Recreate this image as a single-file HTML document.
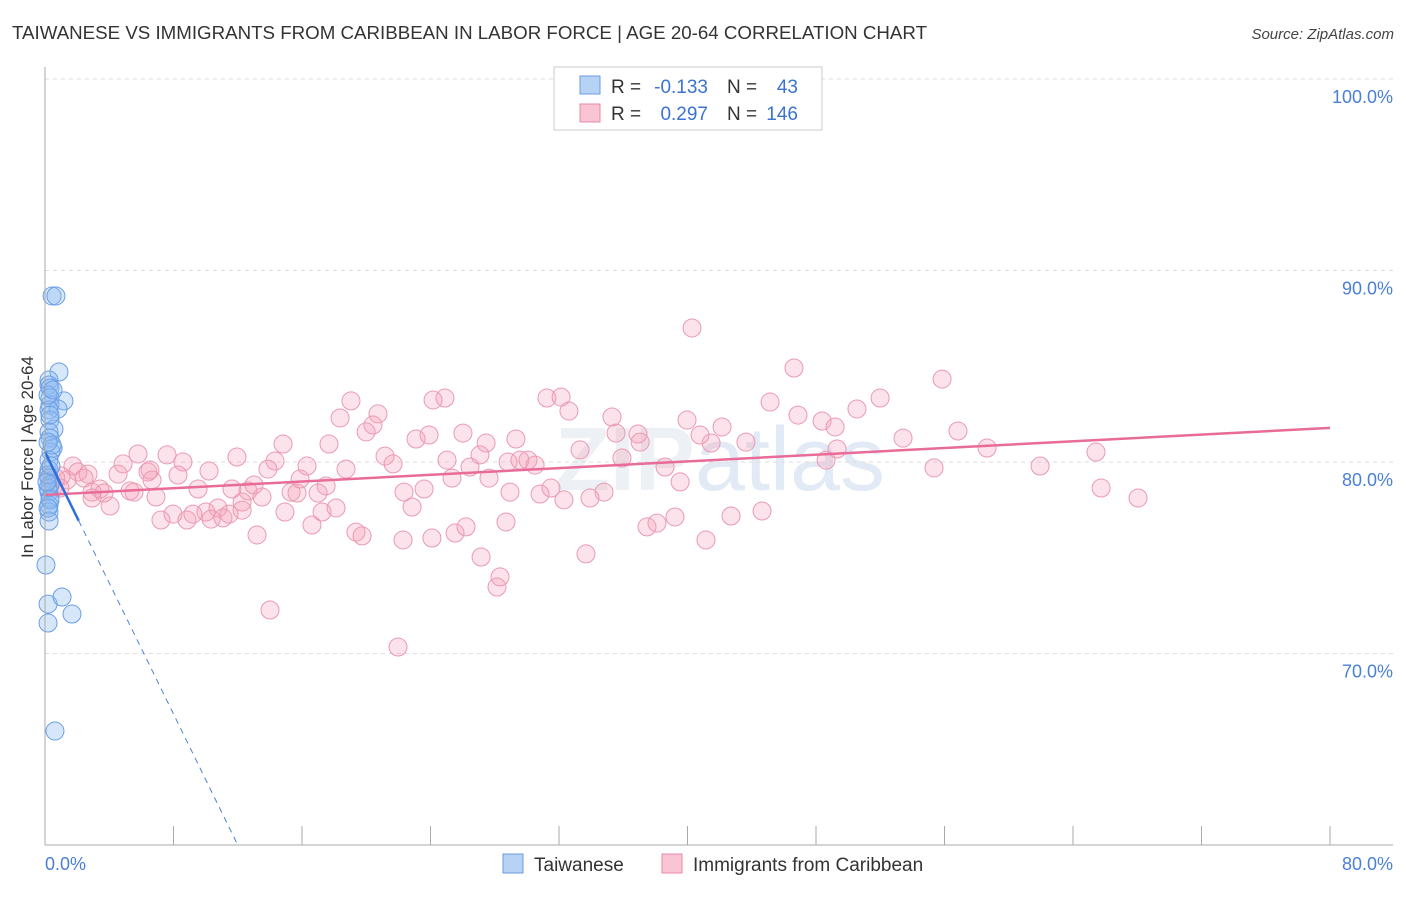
<!DOCTYPE html>
<html><head><meta charset="utf-8"><style>
body{margin:0;background:#fff;font-family:"Liberation Sans",sans-serif}
svg text{font-family:"Liberation Sans",sans-serif}
</style></head><body>
<svg id="chart" width="1406" height="892" xmlns="http://www.w3.org/2000/svg">
<text x="12" y="39" font-size="18" fill="#333" textLength="915" lengthAdjust="spacingAndGlyphs">TAIWANESE VS IMMIGRANTS FROM CARIBBEAN IN LABOR FORCE | AGE 20-64 CORRELATION CHART</text>
<text x="1394" y="39" font-size="15" fill="#444" font-style="italic" text-anchor="end">Source: ZipAtlas.com</text>
<text transform="translate(33,457) rotate(-90)" font-size="17" fill="#333" text-anchor="middle">In Labor Force | Age 20-64</text>
<text x="720" y="490" font-size="90" fill="#edf0f4" text-anchor="middle" font-weight="bold">ZIP<tspan fill="#e2eaf5" font-weight="normal">atlas</tspan></text>
<g id="grid"></g><g id="pts"></g><g id="trend"></g>
<line x1="45" y1="67" x2="45" y2="845" stroke="#aaa"/>
<line x1="45" y1="845" x2="1393" y2="845" stroke="#aaa"/>
<text x="45" y="870" font-size="18" fill="#4a7fd6">0.0%</text>
<text x="1393" y="870" font-size="18" fill="#4a7fd6" text-anchor="end">80.0%</text>
<g>
<rect x="554" y="67" width="268" height="63" fill="#fff" stroke="#ccc"/>
<rect x="580" y="76" width="20" height="18" fill="#b6d2f5" stroke="#6b9be0"/>
<rect x="580" y="104" width="20" height="18" fill="#f9c5d5" stroke="#e889a7"/>
<text x="611" y="93" font-size="19" fill="#333">R =</text>
<text x="708" y="93" font-size="19" fill="#3a73d1" text-anchor="end">-0.133</text>
<text x="727" y="93" font-size="19" fill="#333">N =</text>
<text x="798" y="93" font-size="19" fill="#3a73d1" text-anchor="end">43</text>
<text x="611" y="120" font-size="19" fill="#333">R =</text>
<text x="708" y="120" font-size="19" fill="#3a73d1" text-anchor="end">0.297</text>
<text x="727" y="120" font-size="19" fill="#333">N =</text>
<text x="798" y="120" font-size="19" fill="#3a73d1" text-anchor="end">146</text>
</g>
<g>
<rect x="503" y="854" width="20" height="19" fill="#b6d2f5" stroke="#6b9be0"/>
<text x="534" y="871" font-size="19" fill="#333">Taiwanese</text>
<rect x="662" y="854" width="20" height="19" fill="#f9c5d5" stroke="#e889a7"/>
<text x="693" y="871" font-size="19" fill="#333">Immigrants from Caribbean</text>
</g>
</svg>
<script>
const yTicks=[70,80,90,100];
const yTickLabels=["70.0%","80.0%","90.0%","100.0%"];
const xTicks=[0,8,16,24,32,40,48,56,64,72,80];
const blueX=[0.44,0.68,0.87,0.25,0.25,0.31,1.18,0.31,0.31,0.81,0.25,0.31,0.56,0.25,0.31,0.5,0.37,0.25,0.25,0.25,0.31,0.25,0.31,0.25,0.25,0.25,0.06,0.19,1.06,1.68,0.19,0.62,0.19,0.19,0.44,0.19,0.31,0.19,0.5,0.31,0.19,0.12,0.37];
const blueY=[88.67,88.67,84.70,84.28,84.02,83.86,83.19,83.34,82.98,82.77,82.72,82.19,81.72,81.57,81.25,80.73,80.52,80.10,79.58,79.16,78.80,78.43,78.12,77.75,77.39,76.92,74.62,72.58,72.95,72.06,71.59,65.95,78.64,79.32,80.89,81.04,82.45,83.50,83.76,78.02,77.60,78.96,79.79];
const pinkX=[40.28,46.63,55.85,19.05,24.90,24.16,31.25,32.13,32.62,45.14,51.99,50.55,35.30,39.97,42.15,48.38,46.88,49.19,20.73,20.42,19.99,18.37,56.84,53.42,65.43,58.65,43.64,17.68,14.82,23.10,23.91,26.02,27.46,29.32,33.31,35.55,36.92,37.05,40.78,41.47,49.31,48.63,21.17,21.67,25.03,27.08,26.46,29.57,30.07,30.51,35.92,38.60,28.83,11.95,14.32,16.31,13.88,18.74,10.21,8.59,7.60,5.79,4.86,4.55,6.41,6.54,6.66,8.28,1.74,2.05,1.00,0.68,1.37,2.68,2.43,0.19,0.50,0.93,2.93,3.42,3.67,5.29,5.54,6.91,9.53,11.64,12.64,13.01,13.51,15.32,15.88,15.69,17.00,17.50,22.35,23.60,25.34,27.64,28.95,30.82,31.50,32.31,33.93,34.80,39.54,55.35,61.95,65.75,68.05,4.05,2.93,12.27,7.22,7.97,8.84,9.21,10.02,10.34,10.77,11.08,11.46,12.27,14.94,16.62,17.25,18.12,19.36,19.74,22.85,24.09,22.29,25.53,26.21,28.70,37.48,38.10,39.22,42.71,44.64,41.15,33.68,27.15,28.33,28.14,14.01,21.98,13.20];
const pinkY=[87.00,84.91,84.33,83.19,83.34,83.24,83.34,83.39,82.66,83.13,83.34,82.77,82.35,82.19,81.83,82.14,82.45,81.83,82.51,81.93,81.57,82.30,81.62,81.25,80.52,80.73,81.04,80.94,80.94,81.20,81.41,81.51,80.99,81.20,80.63,81.51,81.46,81.04,81.41,80.99,80.68,80.10,80.31,79.90,80.10,80.37,79.74,80.10,80.10,79.84,80.21,79.74,80.00,80.26,80.05,79.79,79.63,79.63,79.53,80.00,80.37,80.42,79.90,79.37,79.48,79.58,79.06,79.32,79.79,79.48,79.27,79.16,79.06,79.37,79.16,79.32,78.69,78.64,78.43,78.59,78.38,78.49,78.43,78.17,78.59,78.59,78.49,78.80,78.17,78.43,79.11,78.38,78.38,78.75,78.43,78.59,79.16,79.16,78.43,78.33,78.64,78.02,78.12,78.43,78.96,79.69,79.79,78.64,78.12,77.70,78.12,77.91,76.97,77.28,76.97,77.28,77.39,77.02,77.60,77.08,77.28,77.49,77.39,76.71,77.39,77.60,76.34,76.14,77.65,76.03,75.93,76.29,76.61,76.87,76.61,76.81,77.13,77.18,77.44,75.93,75.20,75.04,74.00,73.47,72.27,70.34,76.19];
const blueTrend=[80.52,-1.71];
const pinkTrend=[78.28,0.04375];
const X=v=>45+v*(1285/80);
const Y=v=>79+(100-v)*19.15;
const NS="http://www.w3.org/2000/svg";
function mk(tag,attrs,parent){const e=document.createElementNS(NS,tag);for(const k in attrs)e.setAttribute(k,attrs[k]);parent.appendChild(e);return e;}
const grid=document.getElementById('grid');
yTicks.forEach((t,i)=>{
  const l=mk('line',{x1:45,x2:1393,y1:Y(t),y2:Y(t),stroke:'#ddd','stroke-dasharray':'4,4'},grid);
  
  
  const tx=mk('text',{x:1393,y:Y(t)+24,'font-size':18,fill:'#4a7fd6','text-anchor':'end'},grid);
  tx.textContent=yTickLabels[i];
  
  
});
xTicks.forEach(t=>{
  const l=mk('line',{x1:X(t),x2:X(t),y1:826,y2:845,stroke:'#aaa'},grid);
  
  
});
const pts=document.getElementById('pts');
pinkX.forEach((x,i)=>{
  const c=mk('circle',{cx:X(x),cy:Y(pinkY[i]),r:9,fill:'rgba(244,160,186,0.3)',stroke:'#ea9ab3','stroke-width':1},pts);
  
  
});
blueX.forEach((x,i)=>{
  const c=mk('circle',{cx:X(x),cy:Y(blueY[i]),r:9,fill:'rgba(140,185,240,0.35)',stroke:'#6a9ee6','stroke-width':1},pts);
  
  
});
const tr=document.getElementById('trend');
const pl=mk('line',{x1:X(0),y1:Y(pinkTrend[0]),x2:X(80),y2:Y(pinkTrend[0]+80*pinkTrend[1]),stroke:'#e86b98','stroke-width':2.5},tr);


const bEnd=(60-blueTrend[0])/blueTrend[1];
const bd=mk('line',{x1:X(2.1),y1:Y(blueTrend[0]+2.1*blueTrend[1]),x2:X(bEnd),y2:Y(60),stroke:'#4a7fd6','stroke-width':1,'stroke-dasharray':'6,5'},tr);


const bl=mk('line',{x1:X(0),y1:Y(blueTrend[0]),x2:X(2.1),y2:Y(blueTrend[0]+2.1*blueTrend[1]),stroke:'#2f6fdc','stroke-width':2.5},tr);


</script>
</body></html>
